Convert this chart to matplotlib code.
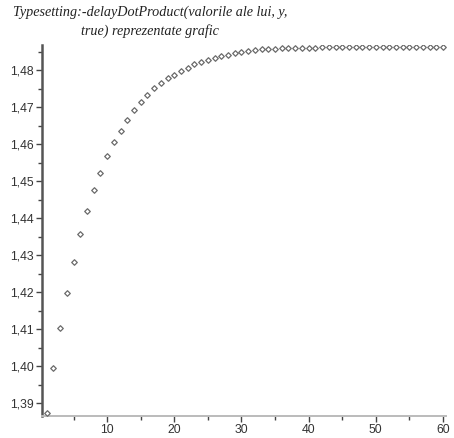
import matplotlib
matplotlib.use("Agg")
import matplotlib.pyplot as plt
from matplotlib.ticker import MultipleLocator, FuncFormatter

x = list(range(1, 61))
y = [1.3873, 1.3995, 1.4103, 1.4197, 1.4281, 1.4357, 1.4419, 1.4476, 1.4522, 1.4568,
     1.4605, 1.4635, 1.4665, 1.4692, 1.4714, 1.4732, 1.4751, 1.4765, 1.4778, 1.4786,
     1.4797, 1.4805, 1.4816, 1.4822, 1.4827, 1.4832, 1.4838, 1.4842, 1.4846, 1.4849,
     1.4852, 1.4854, 1.4856, 1.4857, 1.4858, 1.4859, 1.4860, 1.4860, 1.4861, 1.4861,
     1.4861, 1.4862, 1.4862, 1.4862, 1.4862, 1.4862, 1.4862, 1.4862, 1.4862, 1.4862,
     1.4862, 1.4862, 1.4862, 1.4862, 1.4862, 1.4862, 1.4862, 1.4862, 1.4862, 1.4862]
title = "Typesetting:-delayDotProduct(valorile ale lui, y,\ntrue) reprezentate grafic"

fig = plt.figure(figsize=(4.54, 4.38), dpi=100)
ax = fig.add_axes([42/454, 1-416/438, (446-42)/454, (416-45)/438])
ax.scatter(x, y, marker='D', s=8, facecolors='white', edgecolors='#6a6a6a', linewidths=0.9, zorder=3)
ax.set_xlim(0.3, 60.45)
ax.set_ylim(1.3865, 1.4868)
for s in ['top', 'right']:
    ax.spines[s].set_visible(False)
ax.spines['left'].set_color('#555555')
ax.spines['left'].set_linewidth(1.8)
ax.spines['bottom'].set_color('#bbbbbb')
ax.spines['bottom'].set_linewidth(1.4)
ax.xaxis.set_major_locator(MultipleLocator(10))
ax.xaxis.set_minor_locator(MultipleLocator(5))
ax.yaxis.set_major_locator(MultipleLocator(0.01))
ax.yaxis.set_minor_locator(MultipleLocator(0.005))
ax.yaxis.set_major_formatter(FuncFormatter(lambda v, p: f"{v:.2f}".replace('.', ',')))
ax.set_xticks([10, 20, 30, 40, 50, 60])
ax.tick_params(axis='both', which='both', direction='out', color='#444444', width=1.0,
               labelsize=8.8, labelcolor='#333333', pad=2)
ax.tick_params(axis='both', which='major', length=4)
ax.tick_params(axis='both', which='minor', length=3)
for lab in ax.get_xticklabels() + ax.get_yticklabels():
    lab.set_family('Liberation Sans')
fig.text(150/454, 1-6/438, title, ha='center', va='top', fontsize=10.2,
         family='Liberation Serif', style='italic', color='#222222', linespacing=1.4)
fig.savefig('out.png', dpi=100)
